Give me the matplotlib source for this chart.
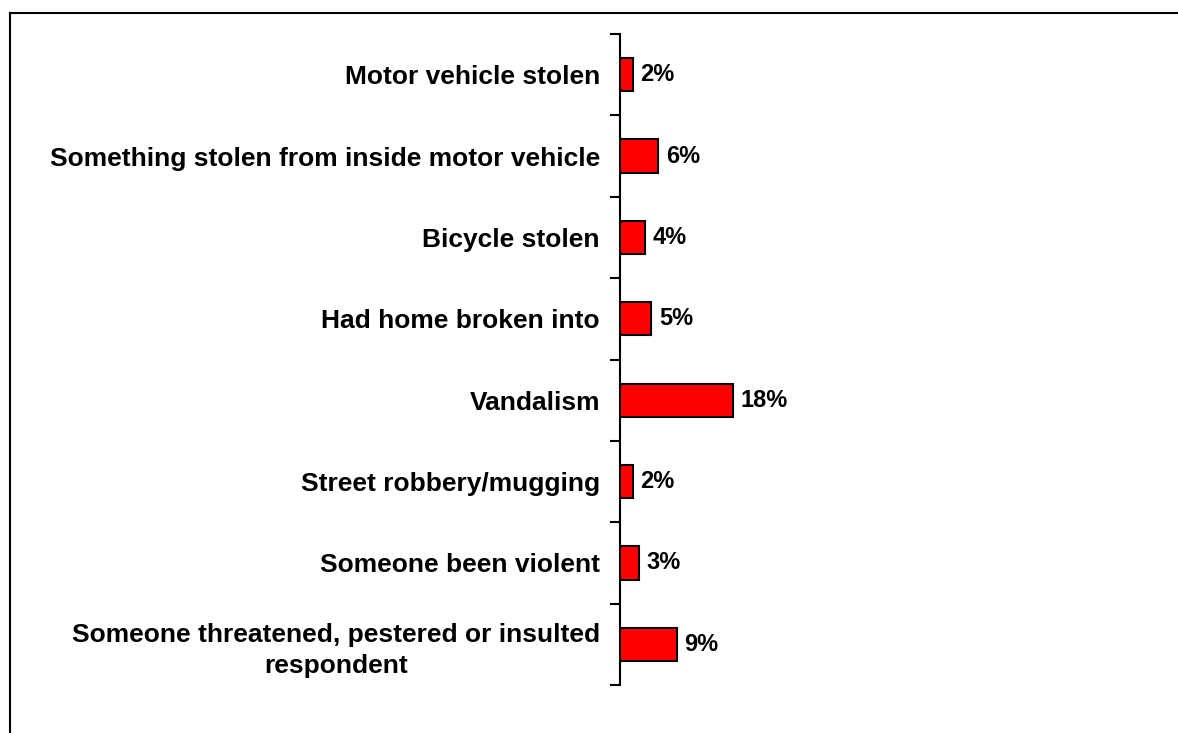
import numpy as np
from matplotlib import pyplot as plt
from matplotlib.lines import Line2D

categories = ["Motor vehicle stolen",
              "Something stolen from inside motor vehicle",
              "Bicycle stolen",
              "Had home broken into",
              "Vandalism",
              "Street robbery/mugging",
              "Someone been violent",
              "Someone threatened, pestered or insulted\nrespondent"]
values = [2, 6, 4, 5, 18, 2, 3, 9]
value_labels = ["2%", "6%", "4%", "5%", "18%", "2%", "3%", "9%"]

plt.rcParams['font.family'] = ['Liberation Sans', 'DejaVu Sans']
plt.rcParams['font.weight'] = 'bold'

W, H = 1178, 733
fig = plt.figure(figsize=(W / 100, H / 100), dpi=100)
# axes: left edge at the axis line (x=620), from y=34 to y=685
left, right = 620, 1160
top, bottom = 34, 685
ax = fig.add_axes([left / W, 1 - bottom / H, (right - left) / W, (bottom - top) / H])

px_per_pct = 113 / 18.0
ax.set_xlim(0, (right - left) / px_per_pct)
n = len(categories)
ax.set_ylim(n - 0.5, -0.5)

y = np.arange(n)
ax.barh(y, values, height=0.41, color='#ff0000', edgecolor='black', linewidth=1.5)

for yi, v, lab in zip(y, values, value_labels):
    ax.text(v + 8 / px_per_pct, yi, lab, va='center', ha='left',
            fontsize=17, fontweight='bold')

for s in ['top', 'right', 'bottom']:
    ax.spines[s].set_visible(False)
ax.spines['left'].set_linewidth(1.5)
ax.set_xticks([])
ax.set_yticks(np.arange(n + 1) - 0.5, minor=False)
ax.set_yticklabels([])
ax.tick_params(axis='y', which='major', length=7, width=1.5, direction='out')
ax.set_yticks(y, minor=True)
ax.set_yticklabels(categories, minor=True, fontsize=19, fontweight='bold')
ax.tick_params(axis='y', which='minor', length=0, pad=14.4)
# center multiline label text, keep right edge at the pad
for t in ax.get_yticklabels(minor=True):
    t.set_multialignment('center')
    t.set_horizontalalignment('right')
    t.set_linespacing(1.4)

# frame lines at top and left of figure
fig.add_artist(Line2D([10 / W, 10 / W], [0, 1 - 13 / H], color='black', lw=1.5,
                      transform=fig.transFigure))
fig.add_artist(Line2D([10 / W, 1], [1 - 13 / H, 1 - 13 / H], color='black', lw=1.5,
                      transform=fig.transFigure))

fig.savefig('out.png', dpi=100)
